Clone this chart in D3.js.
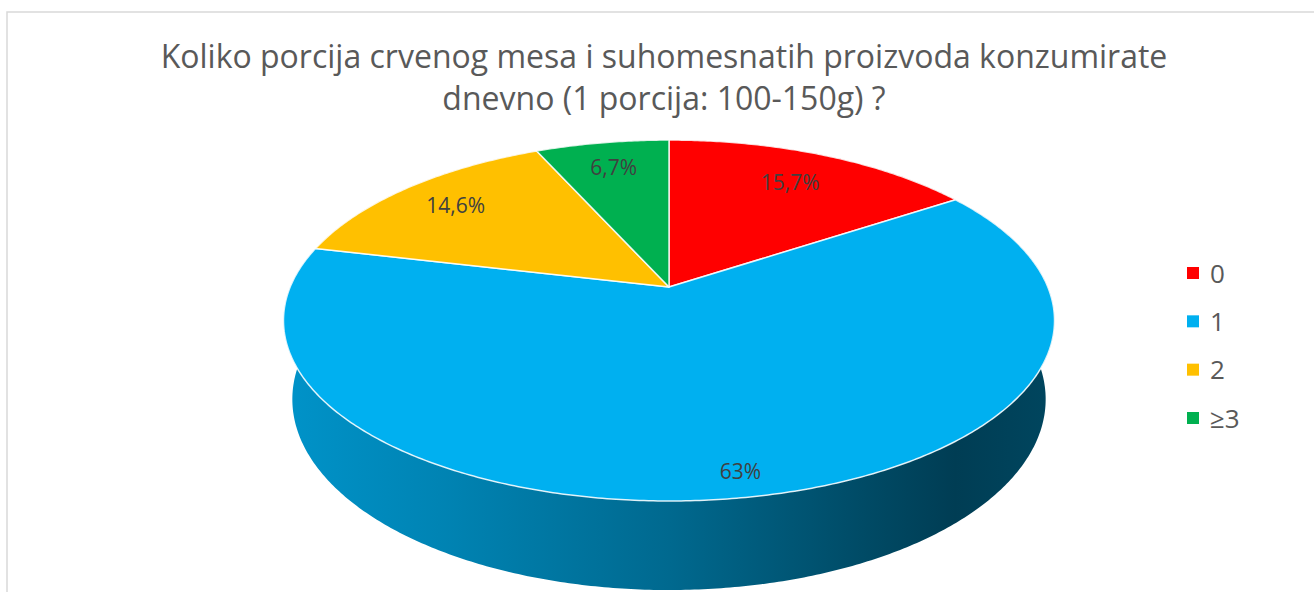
<!DOCTYPE html>
<html>
<head>
<meta charset="utf-8">
<script src="https://cdn.jsdelivr.net/npm/d3@7"></script>
<style>
  body { margin: 0; background: #fff; }
  svg { display: block; }
</style>
</head>
<body>
<svg id="chart" width="1314" height="592"></svg>
<script>
// data
const titleLines = ["Koliko porcija crvenog mesa i suhomesnatih proizvoda konzumirate", "dnevno (1 porcija: 100-150g) ?"];
const categories = ["0", "1", "2", "≥3"];
const values = [15.7, 63, 14.6, 6.7];
const labels = ["15,7%", "63%", "14,6%", "6,7%"];
const colors = ["#ff0000", "#00b0f0", "#ffc000", "#00b050"];

const width = 1314, height = 592;
const font = "'Open Sans', Lato, sans-serif";
const svg = d3.select("#chart");

// chart frame
svg.append("rect")
  .attr("x", 7).attr("y", 12)
  .attr("width", width + 10).attr("height", height + 10)
  .attr("fill", "#fff")
  .attr("stroke", "#d9d9d9").attr("stroke-width", 1.5);

// title
svg.append("g").selectAll("text")
  .data(titleLines)
  .join("text")
  .attr("x", 664)
  .attr("y", (d, i) => 68 + i * 42)
  .attr("text-anchor", "middle")
  .attr("font-family", font)
  .attr("font-size", "32px")
  .attr("fill", "#595959")
  .text(d => d);

// 3d pie: perspective camera looking down on a unit disk
const cx = 669, cy = 287;
const sinA = 0.46, cosA = Math.sqrt(1 - sinA * sinA);
const camD = 4.78, focal = 1810.7, thick = 0.236;

function proj(theta, r, h) {
  const X = r * Math.sin(theta);
  const Z = -r * Math.cos(theta);
  const depth = camD - Z * cosA - h * sinA;
  return [cx + focal * X / depth, cy + focal * (Z * sinA - h * cosA) / depth];
}

function arcPts(a0, a1, r, h) {
  const n = Math.max(2, Math.ceil((a1 - a0) / 0.01));
  return d3.range(n + 1).map(i => proj(a0 + (a1 - a0) * i / n, r, h));
}

const pie = d3.pie().sort(null).value(d => d);
const arcs = pie(values);
const line = d3.line();

const defs = svg.append("defs");
arcs.forEach((a, i) => {
  const base = d3.color(colors[i]);
  const g = defs.append("linearGradient")
    .attr("id", "side" + i)
    .attr("gradientUnits", "userSpaceOnUse")
    .attr("x1", 284).attr("x2", 1055).attr("y1", 0).attr("y2", 0);
  [[0, 0.5], [0.2, 0.8], [0.5, 1.45], [0.75, 2.4], [0.87, 2.95], [1, 2.6]].forEach(([o, k]) => {
    g.append("stop").attr("offset", o).attr("stop-color", base.darker(k).formatHex());
  });
});

// side walls
svg.append("g").selectAll("path")
  .data(arcs)
  .join("path")
  .attr("d", a => {
    const top = arcPts(a.startAngle, a.endAngle, 1, 0);
    const bot = arcPts(a.startAngle, a.endAngle, 1, -thick).reverse();
    return line(top.concat(bot)) + "Z";
  })
  .attr("fill", (a, i) => `url(#side${i})`);

// top faces
svg.append("g").selectAll("path")
  .data(arcs)
  .join("path")
  .attr("d", a => line([proj(0, 0, 0)].concat(arcPts(a.startAngle, a.endAngle, 1, 0))) + "Z")
  .attr("fill", (a, i) => colors[i])
  .attr("stroke", "#fff")
  .attr("stroke-opacity", 0.85)
  .attr("stroke-width", 1.5)
  .attr("stroke-linejoin", "round");

// data labels
const labelR = [0.76, 0.9, 0.8, 0.8];
svg.append("g").selectAll("text")
  .data(arcs)
  .join("text")
  .attr("x", (a, i) => proj((a.startAngle + a.endAngle) / 2, labelR[i], 0)[0])
  .attr("y", (a, i) => proj((a.startAngle + a.endAngle) / 2, labelR[i], 0)[1] + 7)
  .attr("text-anchor", "middle")
  .attr("font-family", font)
  .attr("font-size", "21px")
  .attr("fill", "#404040")
  .text((a, i) => labels[i]);

// legend
const legendY = d3.scalePoint().domain(categories).range([273, 418]);
const legend = svg.append("g").selectAll("g")
  .data(categories)
  .join("g")
  .attr("transform", d => `translate(1187,${legendY(d)})`);
legend.append("rect")
  .attr("x", 0).attr("y", -6)
  .attr("width", 12).attr("height", 12)
  .attr("fill", (d, i) => colors[i]);
legend.append("text")
  .attr("x", 23).attr("y", 9.5)
  .attr("font-family", font)
  .attr("font-size", "26px")
  .attr("fill", "#595959")
  .text(d => d);
</script>
</body>
</html>
